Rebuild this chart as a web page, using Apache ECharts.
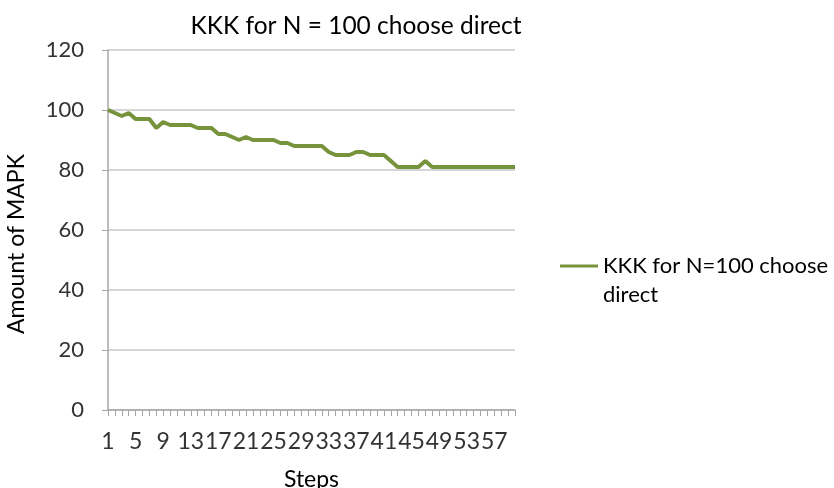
<!DOCTYPE html>
<html>
<head>
<meta charset="utf-8">
<script src="https://cdn.jsdelivr.net/npm/echarts@6/dist/echarts.min.js"></script>
<style>
html,body{margin:0;padding:0;background:#fff;}
#main{width:834px;height:488px;}
</style>
</head>
<body>
<div id="main"></div>
<script>
var steps = [];
for (var i = 1; i <= 60; i++) steps.push(String(i));   // 1..60 步

var mapk = [100, 99, 98, 99, 97, 97, 97, 94, 96, 95,
            95, 95, 95, 94, 94, 94, 92, 92, 91, 90,
            91, 90, 90, 90, 90, 89, 89, 88, 88, 88,
            88, 88, 86, 85, 85, 85, 86, 86, 85, 85,
            85, 83, 81, 81, 81, 81, 83, 81, 81, 81,
            81, 81, 81, 81, 81, 81, 81, 81, 81, 81];

var yTicks = [0, 20, 40, 60, 80, 100, 120];

var myChart = echarts.init(document.getElementById("main"));
var font = "Lato";

var option = {
  animation: false,
  title: {
    text: "KKK for N = 100 choose direct",
    left: 351,
    top: 9,
    textAlign: "center",
    textStyle: {fontFamily: font, fontSize: 24.5, fontWeight: "normal", color: "#000"}
  },
  legend: {
    data: ["KKK for N=100 choose direct"],
    left: 555,
    top: 250,
    icon: "rect",
    itemWidth: 38,
    itemHeight: 3,
    itemGap: 3,
    formatter: function () { return "KKK for N=100 choose"; },
    textStyle: {fontFamily: font, fontSize: 22, color: "#000"}
  },
  graphic: [{
    type: "text",
    left: 603,
    top: 284,
    style: {text: "direct", fontFamily: font, fontSize: 22, fill: "#000"}
  }],
  grid: {left: 108, right: 319, top: 50, bottom: 78, outerBoundsMode: "none"},   // v6 不要自动缩
  xAxis: {
    type: "category",
    data: steps,
    boundaryGap: false,
    name: "Steps",
    nameLocation: "middle",
    nameGap: 58,
    nameTextStyle: {fontFamily: font, fontSize: 23, color: "#000"},
    axisLine: {lineStyle: {color: "#a6a6a6", width: 1.5}},
    axisTick: {show: true, interval: 0, length: 6, lineStyle: {color: "#a6a6a6"}},
    axisLabel: {interval: 3, fontFamily: font, fontSize: 23, color: "#333", margin: 20}
  },
  yAxis: {
    type: "value",
    min: yTicks[0],
    max: yTicks[yTicks.length - 1],
    interval: 20,
    name: "Amount of MAPK",
    nameLocation: "middle",
    nameGap: 80,
    nameTextStyle: {fontFamily: font, fontSize: 23, color: "#000", padding: [0, 28, 0, 0]},
    axisLine: {show: true, lineStyle: {color: "#a6a6a6", width: 1.5}},
    axisTick: {show: true, length: 6, lineStyle: {color: "#a6a6a6"}},
    axisLabel: {fontFamily: font, fontSize: 22, color: "#333", margin: 24},
    splitLine: {lineStyle: {color: "#c8c8c8", width: 1.5}}
  },
  series: [{
    name: "KKK for N=100 choose direct",
    type: "line",
    data: mapk,
    symbol: "none",
    color: "#77933C",
    lineStyle: {width: 4, color: "#77933C"}
  }]
};

myChart.setOption(option);
</script>
</body>
</html>
